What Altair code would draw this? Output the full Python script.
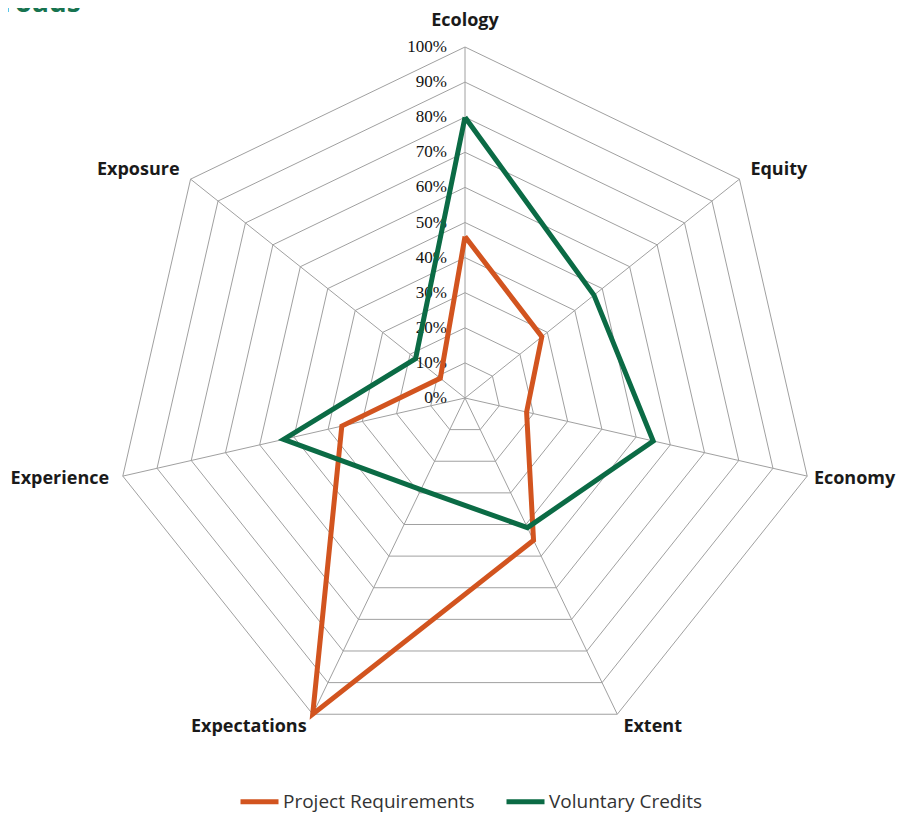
import altair as alt
import pandas as pd

categories = ["Ecology", "Equity", "Economy", "Extent", "Expectations", "Experience", "Exposure"]
series_names = ["Project Requirements", "Voluntary Credits"]
project_requirements = [0.46, 0.28, 0.18, 0.45, 1.00, 0.36, 0.09]
voluntary_credits = [0.80, 0.47, 0.55, 0.41, 0.29, 0.53, 0.18]
grid_levels = [0.1, 0.2, 0.3, 0.4, 0.5, 0.6, 0.7, 0.8, 0.9, 1.0]
tick_levels = [0.0, 0.1, 0.2, 0.3, 0.4, 0.5, 0.6, 0.7, 0.8, 0.9, 1.0]
tick_labels = ["0%", "10%", "20%", "30%", "40%", "50%", "60%", "70%", "80%", "90%", "100%"]
series_colors = ["#D2541F", "#0B6B45"]

N = len(categories)

# series table (closed polygons)
rows = []
for name, vals in zip(series_names, [project_requirements, voluntary_credits]):
    for k in range(N + 1):
        i = k % N
        rows.append({"series": name, "idx": i, "ord": k, "value": vals[i]})
series_df = pd.DataFrame(rows)

grid_df = pd.DataFrame(
    [{"level": lv, "idx": k % N, "ord": k} for lv in grid_levels for k in range(N + 1)]
)
spoke_df = pd.DataFrame({"idx": list(range(N)), "category": categories})
tick_df = pd.DataFrame({"level": tick_levels, "label": tick_labels})

W, H = 889, 807
R = 351.0
CX, CY = 457.0, 390.0
xdom = [-CX / R, (W - CX) / R]
ydom = [-(H - CY) / R, CY / R]

xs = alt.Scale(domain=xdom, nice=False, zero=False)
ys = alt.Scale(domain=ydom, nice=False, zero=False)
ang = "2*PI*datum.idx/%d" % N

grid = alt.Chart(grid_df).transform_calculate(
    gx="datum.level*sin(%s)" % ang, gy="datum.level*cos(%s)" % ang
).mark_line(color="#A0A0A0", strokeWidth=1).encode(
    x=alt.X("gx:Q", scale=xs, axis=None),
    y=alt.Y("gy:Q", scale=ys, axis=None),
    detail="level:N",
    order="ord:Q",
)

spokes = alt.Chart(spoke_df).transform_calculate(
    x0="0", y0="0", x1="sin(%s)" % ang, y1="cos(%s)" % ang
).mark_rule(color="#A0A0A0", strokeWidth=1).encode(
    x=alt.X("x0:Q", scale=xs, axis=None),
    y=alt.Y("y0:Q", scale=ys, axis=None),
    x2="x1:Q",
    y2="y1:Q",
)

ticks = alt.Chart(tick_df).transform_calculate(tx="0", ty="datum.level").mark_text(
    align="right", baseline="middle", dx=-18, font="Liberation Serif", fontSize=17, color="#111111"
).encode(
    x=alt.X("tx:Q", scale=xs, axis=None),
    y=alt.Y("ty:Q", scale=ys, axis=None),
    text="label:N",
)

lines = alt.Chart(series_df).transform_calculate(
    px="datum.value*sin(%s)" % ang, py="datum.value*cos(%s)" % ang
).mark_line(strokeWidth=5, strokeJoin="miter").encode(
    x=alt.X("px:Q", scale=xs, axis=None),
    y=alt.Y("py:Q", scale=ys, axis=None),
    order="ord:Q",
    color=alt.Color(
        "series:N",
        scale=alt.Scale(domain=series_names, range=series_colors),
        legend=alt.Legend(
            title=None,
            orient="none",
            direction="horizontal",
            legendX=230,
            legendY=772,
            symbolType="stroke",
            symbolSize=1444,
            symbolStrokeWidth=5,
            labelFont="Open Sans",
            labelFontSize=19,
            labelColor="#333333",
            labelOffset=2,
            columnPadding=21,
            labelLimit=400,
        ),
    ),
)

label_base = alt.Chart(spoke_df).transform_calculate(
    lx="1.04*sin(%s)" % ang, ly="1.04*cos(%s)" % ang
)
label_enc = dict(
    x=alt.X("lx:Q", scale=xs, axis=None),
    y=alt.Y("ly:Q", scale=ys, axis=None),
    text="category:N",
)
lstyle = dict(font="Open Sans", fontSize=18, fontWeight="bold", color="#1a1a1a", baseline="middle")
lab_top = label_base.transform_filter("datum.idx == 0").mark_text(align="center", dy=-12, **lstyle).encode(**label_enc)
lab_right = label_base.transform_filter("datum.idx == 1 || datum.idx == 3").mark_text(align="left", **lstyle).encode(**label_enc)
lab_econ = label_base.transform_filter("datum.idx == 2").mark_text(align="left", dx=-7, **lstyle).encode(**label_enc)
lab_left = label_base.transform_filter("datum.idx >= 4").mark_text(align="right", **lstyle).encode(**label_enc)

title = alt.Chart(pd.DataFrame({"t": ["roads"]})).mark_text(
    align="left", baseline="alphabetic", font="Open Sans", fontSize=28, fontWeight="bold", color="#17734F"
).encode(x=alt.value(-6), y=alt.value(4), text="t:N")

chart = alt.layer(grid, spokes, ticks, lines, lab_top, lab_right, lab_econ, lab_left, title).properties(
    width=W, height=H, autosize=alt.AutoSizeParams(type="none"), padding=0
).configure_view(strokeWidth=0)

chart.save("out.html", embed_options={"renderer": "svg", "actions": False})
